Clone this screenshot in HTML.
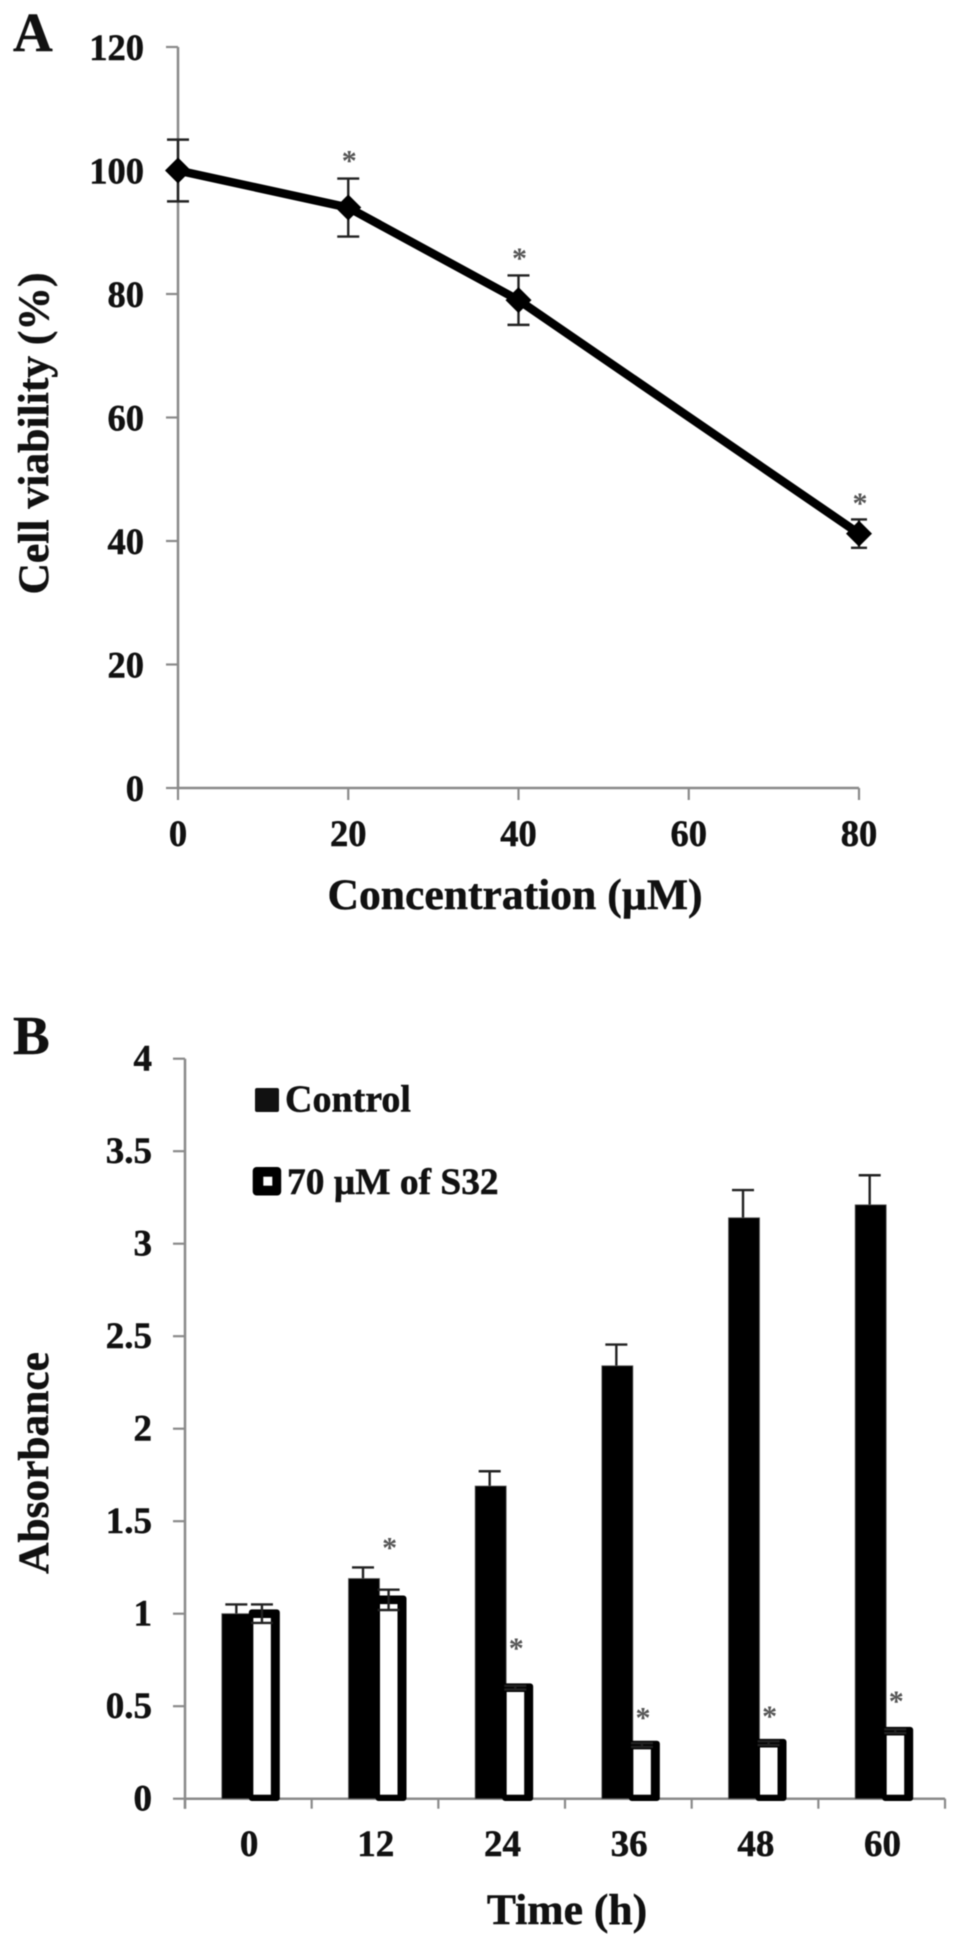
<!DOCTYPE html>
<html>
<head>
<meta charset="utf-8">
<title>Cell viability and absorbance charts</title>
<style>
html,body{margin:0;padding:0;background:#fff;width:958px;height:1945px;overflow:hidden}
svg{display:block;filter:blur(0.6px)}
text{font-family:"Liberation Serif","DejaVu Serif",serif;font-weight:700;fill:#111;stroke:#111;stroke-width:0.5px}
</style>
</head>
<body>
<svg id="figure" xmlns="http://www.w3.org/2000/svg" width="958" height="1945" viewBox="0 0 958 1945">
  <rect x="0" y="0" width="958" height="1945" fill="#fff"/>
  <g id="panelA"></g>
  <g id="panelB"></g>
  <text x="13" y="51" font-size="55">A</text>
  <text x="13" y="1054" font-size="55">B</text>
  <text transform="translate(48,433.5) rotate(-90)" text-anchor="middle" font-size="43.6">Cell viability (%)</text>
  <text x="515" y="909" text-anchor="middle" font-size="43.6">Concentration (µM)</text>
  <text transform="translate(48,1463) rotate(-90)" text-anchor="middle" font-size="43.4">Absorbance</text>
  <text x="567" y="1924" text-anchor="middle" font-size="43.6">Time (h)</text>
  <g>
    <rect x="255" y="1088" width="24" height="24" rx="2" fill="#111"/>
    <text x="285" y="1111.5" font-size="38">Control</text>
    <rect x="252.7" y="1167" width="28.5" height="28.5" rx="4" fill="#000"/>
    <rect x="263.3" y="1176.7" width="9" height="9" fill="#fff"/>
    <text x="287" y="1194" font-size="37.4">70 µM of S32</text>
  </g>
</svg>
<script>
// Panel A data
const concTicks = [0, 20, 40, 60, 80];
const viabilityTicks = [0, 20, 40, 60, 80, 100, 120];
const concentrations = [0, 20, 40, 80];
const viability = [100, 94, 79, 41.2];
const viabilityErr = [5, 4.7, 4, 2.3];
const viabilityStars = [null, 102.3, 86.5, 46.8];

// Panel B data
const timeLabels = ['0', '12', '24', '36', '48', '60'];
const absorbanceTicks = [0, 0.5, 1, 1.5, 2, 2.5, 3, 3.5, 4];
const controlValues = [1.0, 1.19, 1.69, 2.34, 3.14, 3.21];
const controlErr = [0.05, 0.06, 0.08, 0.115, 0.15, 0.16];
const treatedValues = [1.0, 1.075, 0.6, 0.29, 0.3, 0.365];
const treatedErr = [0.05, 0.055, 0.01, 0.01, 0.01, 0.01];
const treatedStars = [null, 1.38, 0.835, 0.46, 0.47, 0.55];

const NS = 'http://www.w3.org/2000/svg';
const AXIS = '#8a8a8a';
const ERR = '#222';
function make(parent, tag, attrs, txt) {
  const el = document.createElementNS(NS, tag);
  for (const k in attrs) el.setAttribute(k, attrs[k]);
  if (txt !== undefined) el.textContent = txt;
  parent.appendChild(el);
  return el;
}

// ---------- Panel A ----------
const pa = document.getElementById('panelA');
const xA = c => 178 + (c / 80) * 681;
const yA = v => 788 - (v / 120) * 741;

let el = make(pa, 'line', {x1: xA(0), x2: xA(0), y1: yA(120), y2: yA(0), stroke: AXIS, 'stroke-width': 2.5});


el = make(pa, 'line', {x1: xA(0), x2: xA(80), y1: yA(0), y2: yA(0), stroke: AXIS, 'stroke-width': 2.5});



viabilityTicks.forEach(t => {
  const m = make(pa, 'line', {x1: xA(0) - 12, x2: xA(0), y1: yA(t), y2: yA(t), stroke: AXIS, 'stroke-width': 2.2});
  
  
  const l = make(pa, 'text', {x: 144, y: yA(t) + 13, 'text-anchor': 'end', 'font-size': 36.5}, String(t));
  
  
});
concTicks.forEach(t => {
  const m = make(pa, 'line', {x1: xA(t), x2: xA(t), y1: yA(0), y2: yA(0) + 12, stroke: AXIS, 'stroke-width': 2.2});
  
  
  const l = make(pa, 'text', {x: xA(t), y: 846, 'text-anchor': 'middle', 'font-size': 36.5}, String(t));
  
  
});

concentrations.forEach((c, i) => {
  const x = xA(c), hi = yA(viability[i] + viabilityErr[i]), lo = yA(viability[i] - viabilityErr[i]);
  const cap = c === 80 ? 8 : 11;
  const e = make(pa, 'path', {d: `M${x - cap} ${hi}H${x + cap}M${x} ${hi}V${lo}M${x - cap} ${lo}H${x + cap}`, fill: 'none', stroke: ERR, 'stroke-width': 2.4});
  
  
});
const linePts = concentrations.map((c, i) => xA(c) + ',' + yA(viability[i])).join(' ');
el = make(pa, 'polyline', {points: linePts, fill: 'none', stroke: '#000', 'stroke-width': 8.5, 'stroke-linejoin': 'round'});


concentrations.forEach((c, i) => {
  const x = xA(c), y = yA(viability[i]), r = 13;
  const d = make(pa, 'polygon', {points: `${x - r},${y} ${x},${y - r} ${x + r},${y} ${x},${y + r}`, fill: '#000'});
  
  
  if (viabilityStars[i] !== null) {
    const s = make(pa, 'text', {x: x + 1, y: yA(viabilityStars[i]) + 14, 'text-anchor': 'middle', 'font-size': 30, style: 'fill:#555;stroke:none'}, '*');
    
    
  }
});

// ---------- Panel B ----------
const pb = document.getElementById('panelB');
const yB = v => 1798.7 - v * 185;
const step = 126.67;
const xEdge = i => 185 + i * step;
const xCenter = i => xEdge(i) + step / 2;

el = make(pb, 'line', {x1: 185, x2: 185, y1: yB(4), y2: yB(0) + 10, stroke: AXIS, 'stroke-width': 2.5});


el = make(pb, 'line', {x1: 185, x2: xEdge(timeLabels.length), y1: yB(0), y2: yB(0), stroke: AXIS, 'stroke-width': 2.5});



absorbanceTicks.forEach(t => {
  const m = make(pb, 'line', {x1: 173, x2: 185, y1: yB(t), y2: yB(t), stroke: AXIS, 'stroke-width': 2.2});
  
  
  const l = make(pb, 'text', {x: 152, y: yB(t) + 12, 'text-anchor': 'end', 'font-size': 37}, String(t));
  
  
});
for (let i = 0; i <= timeLabels.length; i++) {
  const m = make(pb, 'line', {x1: xEdge(i), x2: xEdge(i), y1: yB(0), y2: yB(0) + 10, stroke: AXIS, 'stroke-width': 2.2});
  
  
}

timeLabels.forEach((label, i) => {
  const c = xCenter(i);
  const l = make(pb, 'text', {x: c + 0.8, y: 1856, 'text-anchor': 'middle', 'font-size': 37}, label);
  
  

  // control error bar (behind the bar)
  const cx = c - 12, cTop = yB(controlValues[i] + controlErr[i]);
  const ce = make(pb, 'path', {d: `M${cx - 11} ${cTop}H${cx + 11}M${cx} ${cTop}V${yB(controlValues[i])}`, fill: 'none', stroke: ERR, 'stroke-width': 2.4});
  
  

  // control bar
  const cBar = make(pb, 'rect', {x: c - 26.5, y: yB(controlValues[i]), width: 31, height: yB(0) - yB(controlValues[i]), fill: '#000', stroke: '#555', 'stroke-width': 0.8});
  
  

  // treated bar: dark outline with white core
  const tOuter = make(pb, 'rect', {x: c + 0.5, y: yB(treatedValues[i]) - 4.3, width: 31, height: yB(0) + 2.3 - (yB(treatedValues[i]) - 4.3), rx: 3, fill: '#000'});
  
  
  const tInner = make(pb, 'rect', {x: c + 5, y: yB(treatedValues[i]) + 4.3, width: 17.5, height: yB(0) - 4 - (yB(treatedValues[i]) + 4.3), fill: '#fff'});
  
  

  // treated error bar
  const tx = c + 13.6, tHi = yB(treatedValues[i] + treatedErr[i]), tLo = yB(treatedValues[i] - treatedErr[i]);
  const te = make(pb, 'path', {d: `M${tx - 11} ${tHi}H${tx + 11}M${tx} ${tHi}V${tLo}M${tx - 11} ${tLo}H${tx + 11}`, fill: 'none', stroke: ERR, 'stroke-width': 2.4});
  
  

  if (treatedStars[i] !== null) {
    const s = make(pb, 'text', {x: tx + 1, y: yB(treatedStars[i]) + 14, 'text-anchor': 'middle', 'font-size': 30, style: 'fill:#555;stroke:none'}, '*');
    
    
  }
});
</script>
</body>
</html>
